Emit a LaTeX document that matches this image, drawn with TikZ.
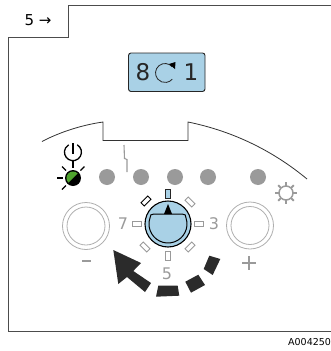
\documentclass[tikz,border=0pt]{standalone}
\usepackage{fontspec}
\setmainfont{DejaVu Sans}
\definecolor{panelblue}{HTML}{A9D1E6}
\definecolor{ledgray}{HTML}{9A9A9A}
\definecolor{arrowdark}{HTML}{2B2B2B}
\definecolor{ledgreen}{HTML}{4FA32E}
\tikzset{
  frameline/.style={draw=black!70,line width=0.9pt},
  panelline/.style={draw=black!80,line width=0.8pt},
  grayled/.style={circle,fill=ledgray,minimum size=16pt,inner sep=0pt},
  tickbox/.style={draw=ledgray,line width=0.9pt,fill=white,minimum width=4.5pt,minimum height=9.5pt,inner sep=0pt},
  graytext/.style={text=ledgray,font=\fontsize{16}{16}\selectfont,inner sep=0pt},
  dispdigit/.style={text=black!85,font=\fontsize{23}{23}\selectfont,inner sep=0pt},
  btn/.style={draw=ledgray!80,line width=0.8pt},
  arrowseg/.style={fill=arrowdark,draw=none},
  ray/.style={black,line width=1.1pt}
}
\begin{document}
\begin{tikzpicture}[x=1pt,y=-1pt]
\useasboundingbox (0,0) rectangle (331,351);
% frame
\draw[frameline] (331,5) -- (68,5) -- (68,37) -- (8,37) -- (8,331) -- (331,331);
\node[font=\fontsize{15}{15}\selectfont,inner sep=0pt] (stepno) at (38,20) {5 →};
% display
\draw[draw=black!85,line width=0.9pt,fill=panelblue,rounded corners=2.5pt] (128.5,53) rectangle (205,91.5);
\node[dispdigit] (d8) at (143,72.5) {8};
\node[dispdigit] (d1) at (191,72.5) {1};
\draw[black!85,line width=0.8pt] (172.3,66.9) arc[start angle=-40,end angle=-320,radius=9.5];
\fill[black] (169,64) -- (175.5,62) -- (175,69) -- cycle;
% panel outline
\draw[panelline] (42,141.5) .. controls (60,132) and (82,125) .. (103,122) -- (103,140.5) -- (188,140.5) -- (188,122) .. controls (232,131) and (272,150) .. (307,179);
% squiggle
\draw[ledgray,line width=1.1pt] (124,145) -- (124.5,158.5) -- (127,159.5) -- (127,172);
% power icon
\draw[black,line width=1.3pt] (77.2,144.8) arc[start angle=-60,end angle=240,radius=8.5];
\draw[black,line width=1.3pt] (73,143) -- (73,154);
\draw[black,line width=1.2pt] (73,161) -- (73,168);
% status LED
\fill[black] (73,178) circle (8);
\fill[ledgreen] (68.4,182.6) arc[start angle=135,end angle=315,radius=6.5] -- cycle;
\draw[ray] (57,178) -- (63,178);
\draw[ray] (62,166.5) -- (66,170.5);
\draw[ray] (84.5,166.5) -- (80.5,170.5);
\draw[ray] (62,189.5) -- (66,185.5);
% gray LEDs
\node[grayled] (l1) at (107,177) {};
\node[grayled] (l2) at (141,177) {};
\node[grayled] (l3) at (175,177) {};
\node[grayled] (l4) at (208,177) {};
\node[grayled] (l5) at (258,177) {};
% gear
\draw[ledgray,line width=1.5pt] (286,193) circle (7);
\foreach \a in {0,45,...,315}
  \draw[ledgray,line width=2pt] (286,193) ++(\a:7) -- ++(\a:4);
% buttons
\draw[btn] (86,226) circle (23.5);
\draw[btn] (86,226) circle (19);
\draw[btn] (250,225.5) circle (23.5);
\draw[btn] (250,225.5) circle (19);
\draw[ledgray,line width=2pt] (82,261) -- (91,261);
\draw[ledgray,line width=2pt] (242,263) -- (256,263);
\draw[ledgray,line width=2pt] (249,256) -- (249,270);
% ticks
\node[tickbox,draw=black!85,fill=panelblue] (t0) at (168,194) {};
\node[tickbox,draw=black,rotate=-45] (t1) at (146,201) {};
\node[tickbox,rotate=45] (t2) at (190,202) {};
\node[tickbox,rotate=90] (t3) at (199,224) {};
\node[tickbox,rotate=-45] (t4) at (190,247) {};
\node[tickbox] (t5) at (168,256) {};
\node[tickbox,rotate=45] (t6) at (145,247) {};
\node[tickbox,rotate=90] (t7) at (137,224) {};
\node[graytext] (n3) at (214,224) {3};
\node[graytext] (n7) at (123,224) {7};
\node[graytext] (n5) at (167,274) {5};
% knob
\draw[black,line width=1.1pt,fill=panelblue] (168,224) circle (23);
\draw[black,line width=1pt] (150,218) .. controls (150,215) and (151,214) .. (154,214) -- (182,214) .. controls (185,214) and (186,215) .. (186.03,218) arc[start angle=-18.4,end angle=198.4,radius=19];
\fill[black] (168,204) -- (172,214) -- (164,214) -- cycle;
% big arrow
\fill[arrowseg] (209.3,255.7) -- (220.3,259) -- (212.7,275) -- (203.7,269) -- cycle;
\fill[arrowseg] (198.3,274.7) -- (205,285) -- (191,292.7) -- (185.3,281.7) -- cycle;
\fill[arrowseg] (158.3,285.7) -- (177.7,285.7) -- (179.3,295.7) -- (156,296.7) -- cycle;
\fill[arrowseg] (113.3,250) -- (141,263) -- (133.3,271) -- (151,283) -- (145,292) -- (127,277) -- (118.3,284) -- cycle;
% code
\node[font=\fontsize{9.5}{9.5}\selectfont,anchor=west,inner sep=0pt] (code) at (288,342) {A004250};
\end{tikzpicture}
\end{document}
